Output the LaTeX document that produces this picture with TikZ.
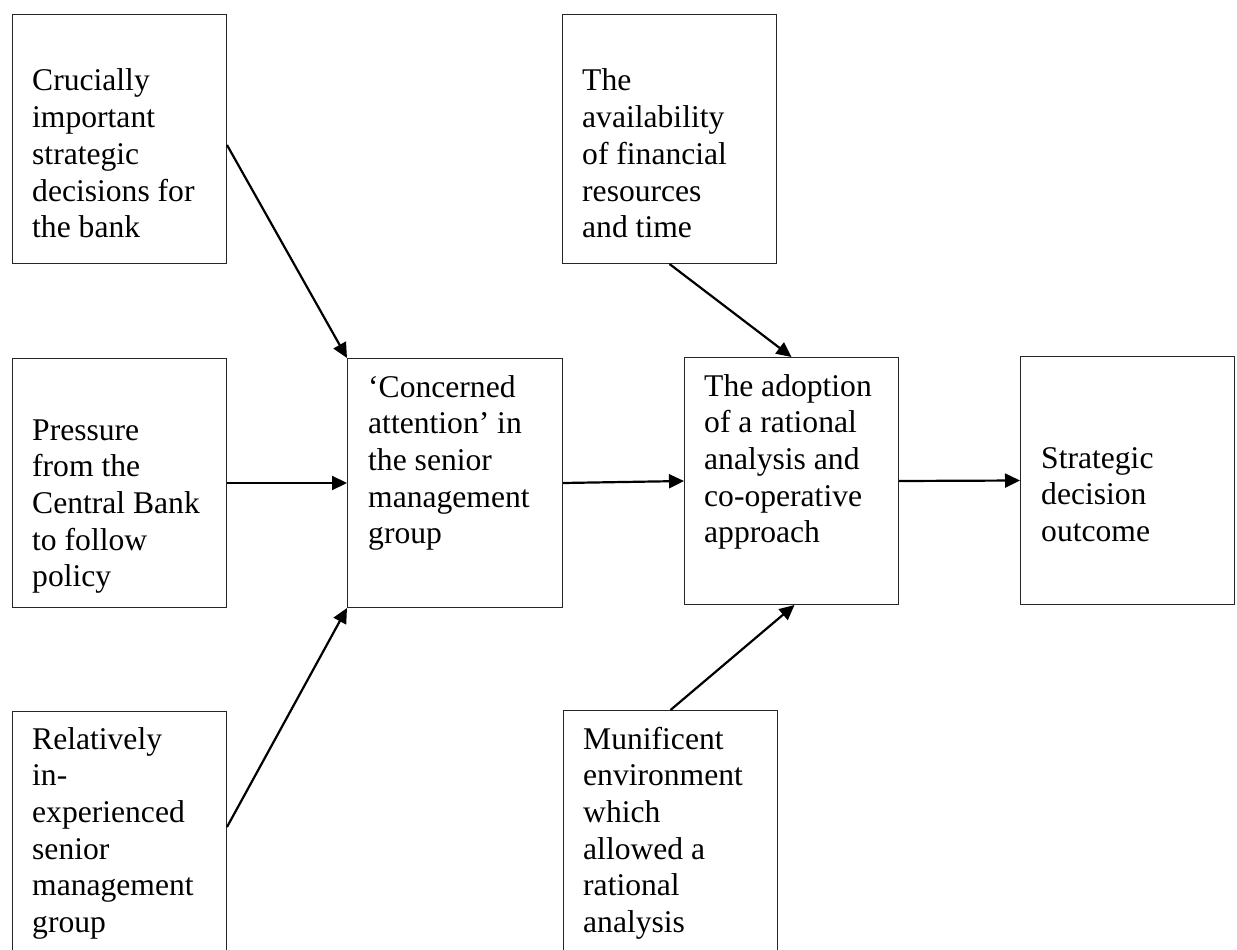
\documentclass[tikz,border=0pt]{standalone}
\usepackage{fontspec}
\setmainfont{Liberation Serif}
\usetikzlibrary{arrows.meta}
\newcommand{\boxtext}[1]{\parbox[t]{190pt}{\raggedright\fontsize{31.6pt}{36.7pt}\selectfont #1}}
\tikzset{
  box/.style={draw=black!85, line width=1pt, rectangle, inner sep=0pt, anchor=north west},
  lbl/.style={inner sep=0pt, anchor=base west},
  conn/.style={line width=2.2pt, -{Triangle[length=15pt,width=14pt]}}
}
\begin{document}
\begin{tikzpicture}[x=1pt,y=-1pt]
\useasboundingbox (0,0) rectangle (1237,950);
\clip (0,0) rectangle (1237,950);
% boxes
\node[box, minimum width=214pt, minimum height=249pt] (b1) at (12,14) {};
\node[box, minimum width=214pt, minimum height=249pt] (b2) at (12,358) {};
\node[box, minimum width=214pt, minimum height=260pt] (b3) at (12,711) {};
\node[box, minimum width=215pt, minimum height=249pt] (conc) at (347,358) {};
\node[box, minimum width=214pt, minimum height=249pt] (avail) at (562,14) {};
\node[box, minimum width=214pt, minimum height=247pt] (adopt) at (684,357) {};
\node[box, minimum width=214pt, minimum height=248pt] (strat) at (1020,356) {};
\node[box, minimum width=214pt, minimum height=260pt] (muni) at (563,710) {};
% texts
\node[lbl] (t1) at (32,91) {\boxtext{Crucially\\important\\strategic\\decisions for\\the bank}};
\node[lbl] (t2) at (32,440) {\boxtext{Pressure\\from the\\Central Bank\\to follow\\policy}};
\node[lbl] (t3) at (32,749) {\boxtext{Relatively\\in-\\experienced\\senior\\management\\group}};
\node[lbl] (tc) at (368,397) {\boxtext{‘Concerned\\attention’ in\\the senior\\management\\group}};
\node[lbl] (tav) at (582,91) {\boxtext{The\\availability\\of financial\\resources\\and time}};
\node[lbl] (tad) at (704,396) {\boxtext{The adoption\\of a rational\\analysis and\\co-operative\\approach}};
\node[lbl] (ts) at (1041,468) {\boxtext{Strategic\\decision\\outcome}};
\node[lbl] (tm) at (583,749) {\boxtext{Munificent\\environment\\which\\allowed a\\rational\\analysis}};
% connectors
\draw[conn] ([yshift=-6pt]b1.east) -- (conc.north west);
\draw[conn] (b2.east) -- (conc.west);
\draw[conn] ([yshift=-116pt]b3.north east) -- (conc.south west);
\draw[conn] (conc.east) -- (adopt.west);
\draw[conn] (adopt.east) -- (strat.west);
\draw[conn] (avail.south) -- (adopt.north);
\draw[conn] (muni.north) -- ([xshift=3pt]adopt.south);
\end{tikzpicture}
\end{document}
